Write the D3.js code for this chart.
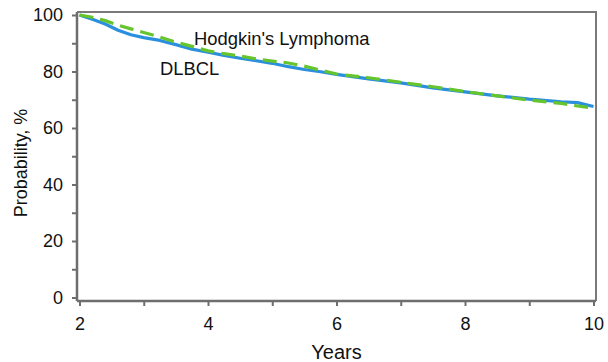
<!DOCTYPE html>
<html>
<head>
<meta charset="utf-8">
<script src="https://cdn.jsdelivr.net/npm/d3@7"></script>
<style>
  html, body { margin: 0; padding: 0; background: #fff; }
  svg { display: block; font-family: "Liberation Sans", Arial, Helvetica, sans-serif; }
</style>
</head>
<body>
<svg id="chart" width="608" height="362"></svg>
<script>
// ---- data ----
const years = [2, 2.2, 2.4, 2.6, 2.8, 3.0, 3.25, 3.5, 3.75, 4.0, 4.25, 4.5, 4.75, 5.0, 5.25, 5.5, 5.75, 6.0, 6.5, 7.0, 7.5, 8.0, 8.5, 9.0, 9.5, 9.75, 10.0];
const dlbcl = [100, 98.5, 96.8, 94.6, 93.0, 92.0, 91.0, 89.5, 87.9, 86.8, 85.7, 84.7, 83.8, 82.9, 81.7, 80.7, 79.9, 79.0, 77.4, 76.0, 74.2, 72.8, 71.4, 70.2, 69.3, 69.0, 67.6];
const hodgkin = [100, 99.2, 98.0, 96.4, 95.1, 93.8, 92.2, 90.4, 88.9, 87.3, 86.3, 85.5, 84.5, 83.7, 83.0, 81.9, 80.5, 79.1, 77.8, 76.2, 74.6, 72.9, 71.4, 69.9, 68.7, 67.8, 67.0];
const xTicks = [2, 3, 4, 5, 6, 7, 8, 9, 10];
const xTickLabels = ["2", "", "4", "", "6", "", "8", "", "10"];
const yTicks = [0, 10, 20, 30, 40, 50, 60, 70, 80, 90, 100];
const yTickLabels = ["0", "", "20", "", "40", "", "60", "", "80", "", "100"];
const seriesNames = ["DLBCL", "Hodgkin's Lymphoma"];
const xTitle = "Years";
const yTitle = "Probability, %";

// ---- layout ----
const svg = d3.select("#chart");
const x = d3.scaleLinear().domain([2, 10]).range([79.5, 593.5]);
const y = d3.scaleLinear().domain([0, 100]).range([297.5, 15]);
const axisX = 77, axisY = 301, topY = 12, rightX = 596;
const axisColor = "#6e6e6e";
const textColor = "#111";

// frame (top/right)
svg.append("path")
  .attr("d", `M${axisX},${topY}H${rightX}V${axisY}`)
  .attr("fill", "none").attr("stroke", "#7a7a7a").attr("stroke-width", 2);

// y axis
const yAxis = d3.axisLeft(y).tickValues(yTicks)
  .tickFormat((d, i) => yTickLabels[i]).tickSize(5).tickPadding(9).tickSizeOuter(0);
const gy = svg.append("g").attr("transform", `translate(${axisX},0)`).call(yAxis);
gy.select(".domain").remove();
gy.append("line").attr("x1", 0).attr("x2", 0).attr("y1", topY).attr("y2", axisY)
  .attr("stroke", axisColor).attr("stroke-width", 2.5);
gy.selectAll(".tick line").attr("stroke", axisColor).attr("stroke-width", 2);
gy.selectAll(".tick text").attr("font-size", 18).attr("fill", textColor)
  .attr("font-family", "Liberation Sans, Arial, sans-serif");

// x axis
const xAxis = d3.axisBottom(x).tickValues(xTicks)
  .tickFormat((d, i) => xTickLabels[i]).tickSize(5).tickPadding(11).tickSizeOuter(0);
const gx = svg.append("g").attr("transform", `translate(0,${axisY})`).call(xAxis);
gx.select(".domain").remove();
gx.append("line").attr("x1", axisX).attr("x2", rightX).attr("y1", 0).attr("y2", 0)
  .attr("stroke", axisColor).attr("stroke-width", 2.5);
gx.selectAll(".tick line").attr("stroke", axisColor).attr("stroke-width", 2);
gx.selectAll(".tick text").attr("font-size", 18).attr("fill", textColor)
  .attr("font-family", "Liberation Sans, Arial, sans-serif");

// titles
svg.append("text").attr("x", x(6)).attr("y", 359).attr("text-anchor", "middle")
  .attr("font-size", 20).attr("fill", textColor).text(xTitle);
svg.append("text").attr("transform", "translate(27,163) rotate(-90)")
  .attr("text-anchor", "middle").attr("font-size", 18).attr("fill", textColor).text(yTitle);

// lines
const line = d3.line().x((d, i) => x(years[i])).y(d => y(d));
svg.append("path").datum(dlbcl).attr("d", line)
  .attr("fill", "none").attr("stroke", "#2a8fdc").attr("stroke-width", 3.2)
  .attr("stroke-linejoin", "round");
svg.append("path").datum(hodgkin).attr("d", line)
  .attr("fill", "none").attr("stroke", "#66c42c").attr("stroke-width", 3.2)
  .attr("stroke-dasharray", "14,7");

// series labels
svg.append("text").attr("x", 194).attr("y", 45).attr("font-size", 18.4).attr("fill", textColor)
  .text(seriesNames[1]);
svg.append("text").attr("x", 160).attr("y", 75).attr("font-size", 18.4).attr("fill", textColor)
  .text(seriesNames[0]);
</script>
</body>
</html>
